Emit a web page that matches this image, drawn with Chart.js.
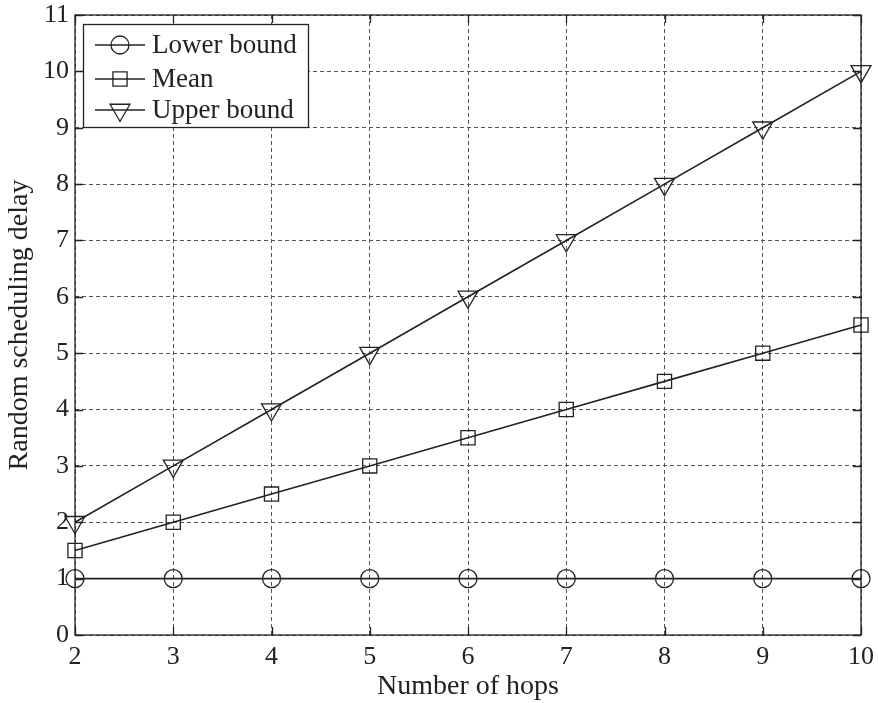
<!DOCTYPE html>
<html>
<head>
<meta charset="utf-8">
<script src="https://cdn.jsdelivr.net/npm/chart.js@4/dist/chart.umd.min.js"></script>
<style>
html,body{margin:0;padding:0;background:#fff;}
#wrap{width:878px;height:703px;}
</style>
</head>
<body>
<div id="wrap"><canvas id="c" width="878" height="703"></canvas></div>
<script>
const hops = [2, 3, 4, 5, 6, 7, 8, 9, 10];
const lowerBound = [1, 1, 1, 1, 1, 1, 1, 1, 1];
const meanDelay = [1.5, 2, 2.5, 3, 3.5, 4, 4.5, 5, 5.5];
const upperBound = [2, 3, 4, 5, 6, 7, 8, 9, 10];
const seriesLabels = ['Lower bound', 'Mean', 'Upper bound'];
const xTicks = [2, 3, 4, 5, 6, 7, 8, 9, 10];
const yTicks = [0, 1, 2, 3, 4, 5, 6, 7, 8, 9, 10, 11];

const FONT = '"Liberation Serif", "Times New Roman", serif';

function pts(xs, ys) { return xs.map((x, i) => ({ x: x, y: ys[i] })); }

const common = {
  borderColor: '#222',
  borderWidth: 1.6,
  pointBorderColor: '#222',
  pointBackgroundColor: 'rgba(0,0,0,0)',
  pointBorderWidth: 1.3,
  pointHoverRadius: 0,
  clip: false,
  tension: 0
};

const datasets = [
  Object.assign({ label: seriesLabels[0], data: pts(hops, lowerBound), pointStyle: 'circle', pointRadius: 9 }, common),
  Object.assign({ label: seriesLabels[1], data: pts(hops, meanDelay), pointStyle: 'rect', pointRadius: 10 }, common),
  Object.assign({ label: seriesLabels[2], data: pts(hops, upperBound), pointStyle: 'triangle', pointRotation: 180, pointRadius: 11.5 }, common)
];

const frame = {
  id: 'frame',
  afterDraw(chart) {
    const ctx = chart.ctx, a = chart.chartArea;
    const xs = chart.scales.x, ys = chart.scales.y;
    ctx.save();
    ctx.strokeStyle = '#222';
    ctx.lineWidth = 1.3;
    ctx.setLineDash([]);
    ctx.strokeRect(a.left, a.top, a.right - a.left, a.bottom - a.top);
    // inward ticks
    ctx.beginPath();
    const tl = 8;
    xTicks.forEach(v => {
      const px = Math.round(xs.getPixelForValue(v)) + 0.5;
      ctx.moveTo(px, a.bottom); ctx.lineTo(px, a.bottom - tl);
      ctx.moveTo(px, a.top); ctx.lineTo(px, a.top + tl);
    });
    yTicks.forEach(v => {
      const py = Math.round(ys.getPixelForValue(v)) + 0.5;
      ctx.moveTo(a.left, py); ctx.lineTo(a.left + tl, py);
      ctx.moveTo(a.right, py); ctx.lineTo(a.right - tl, py);
    });
    ctx.stroke();

    // legend
    const bx = 83, by = 24, bw = 225, bh = 103;
    ctx.fillStyle = '#fff';
    ctx.fillRect(bx, by, bw, bh);
    ctx.lineWidth = 1.3;
    ctx.strokeRect(bx + 0.5, by + 0.5, bw, bh);
    const rows = [45, 79, 110];
    chart.data.datasets.forEach((ds, i) => {
      const y = rows[i];
      ctx.beginPath();
      ctx.lineWidth = 1.6;
      ctx.strokeStyle = '#222';
      ctx.moveTo(95, y); ctx.lineTo(145, y);
      ctx.stroke();
      ctx.lineWidth = 1.3;
      ctx.fillStyle = 'rgba(0,0,0,0)';
      Chart.helpers.drawPoint(ctx, {
        pointStyle: ds.pointStyle,
        rotation: ds.pointRotation || 0,
        radius: ds.pointRadius,
        borderWidth: 1.3
      }, 120, y);
      ctx.fillStyle = '#222';
      ctx.font = '27px ' + FONT;
      ctx.textAlign = 'left';
      ctx.textBaseline = 'middle';
      ctx.fillText(ds.label, 152, y + 1);
    });
    ctx.restore();
  }
};

new Chart(document.getElementById('c'), {
  type: 'line',
  data: { datasets: datasets },
  options: {
    responsive: false,
    animation: false,
    events: [],
    layout: { padding: { top: 15, right: 17, left: 0, bottom: 0 } },
    plugins: { legend: { display: false }, tooltip: { enabled: false } },
    scales: {
      x: {
        type: 'linear',
        min: 2, max: 10,
        afterFit(s) { s.height = 68; s.paddingRight = 0; s.paddingLeft = 0; },
        afterBuildTicks(s) { s.ticks = xTicks.map(v => ({ value: v })); },
        border: { display: false, dash: [4, 3] },
        grid: { color: '#555', lineWidth: 1, tickLength: 0, drawTicks: false },
        ticks: { color: '#222', font: { family: FONT, size: 26 }, padding: 7, maxRotation: 0, autoSkip: false },
        title: { display: true, text: 'Number of hops', color: '#222', font: { family: FONT, size: 28 }, padding: { top: 0, bottom: 0 } }
      },
      y: {
        type: 'linear',
        min: 0, max: 11,
        afterFit(s) { s.width = 75; s.paddingTop = 0; s.paddingBottom = 0; },
        afterBuildTicks(s) { s.ticks = yTicks.map(v => ({ value: v })); },
        border: { display: false, dash: [4, 3] },
        grid: { color: '#555', lineWidth: 1, tickLength: 0, drawTicks: false },
        ticks: { color: '#222', font: { family: FONT, size: 26 }, padding: 6, autoSkip: false },
        title: { display: true, text: 'Random scheduling delay', color: '#222', font: { family: FONT, size: 28 }, padding: { top: 3, bottom: 0 } }
      }
    }
  },
  plugins: [frame]
});
</script>
</body>
</html>
